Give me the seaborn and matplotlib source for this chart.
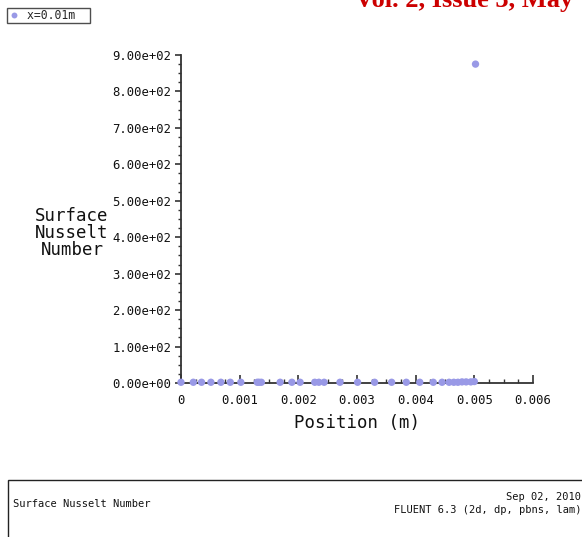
import matplotlib
matplotlib.use("Agg")
import matplotlib.pyplot as plt
import matplotlib.ticker as mticker
from matplotlib.patches import Rectangle
import seaborn as sns
import pandas as pd

# ---- data ----
position = [0.0, 0.00021, 0.00035, 0.00051, 0.00068, 0.00084, 0.00102, 0.00130,
            0.00133, 0.00137, 0.00169, 0.00189, 0.00203, 0.00228, 0.00235, 0.00244,
            0.00271, 0.00301, 0.00330, 0.00359, 0.00384, 0.00407, 0.00430, 0.00445,
            0.00457, 0.00465, 0.00472, 0.00479, 0.00486, 0.00494, 0.00500, 0.00502]
nusselt = [2, 2, 2, 2, 2, 2, 2, 2,
           2, 2, 2, 2, 2, 2, 2, 2,
           2, 2, 2, 2, 2, 2, 2, 2,
           2, 2, 2, 3, 3, 3, 4, 875]
series_label = "x=0.01m"
x_ticks = [0, 0.001, 0.002, 0.003, 0.004, 0.005, 0.006]
y_ticks = [0, 100, 200, 300, 400, 500, 600, 700, 800, 900]

df = pd.DataFrame({"Position (m)": position, "Surface Nusselt Number": nusselt,
                   "series": series_label})

sns.set_style("white")
plt.rcParams["font.family"] = ["DejaVu Sans Mono", "DejaVu Sans"]

W, H = 582, 537
X0, X1, YT, YB = 181, 533, 55, 383
fig = plt.figure(figsize=(W / 100, H / 100), dpi=100)
ax = fig.add_axes([X0 / W, 1 - YB / H, (X1 - X0) / W, (YB - YT) / H])

dot_color = "#9999e6"
sns.scatterplot(data=df, x="Position (m)", y="Surface Nusselt Number", hue="series",
                palette=[dot_color], s=28, edgecolor="none", ax=ax, clip_on=False,
                zorder=5, legend=True)

ax.set_xlim(0, 0.006)
ax.set_ylim(0, 900)
ax.set_xticks(x_ticks)
ax.set_yticks(y_ticks)
ax.xaxis.set_major_formatter(mticker.FuncFormatter(lambda v, p: "0" if abs(v) < 1e-12 else f"{v:.3f}"))
ax.yaxis.set_major_formatter(mticker.FuncFormatter(lambda v, p: f"{v:.2e}"))
ax.xaxis.set_minor_locator(mticker.MultipleLocator(0.00025))
ax.yaxis.set_minor_locator(mticker.MultipleLocator(25))

axis_col = "#333333"
for s in ["top", "right"]:
    ax.spines[s].set_visible(False)
for s in ["left", "bottom"]:
    ax.spines[s].set_color(axis_col)
    ax.spines[s].set_linewidth(1.3)

ax.tick_params(axis="x", which="major", direction="in", length=6, width=1.2,
               colors=axis_col, labelcolor="#111111", labelsize=8.8, pad=8, bottom=True)
ax.tick_params(axis="x", which="minor", direction="in", length=3, width=1.0,
               colors=axis_col, bottom=True)
ax.tick_params(axis="y", which="major", direction="out", length=4, width=1.2,
               colors=axis_col, labelcolor="#111111", labelsize=8.8, pad=3, left=True)
ax.tick_params(axis="y", which="minor", direction="out", length=2.5, width=1.0,
               colors=axis_col, left=True)

ax.set_xlabel("Position (m)", fontsize=12.5, color="#111111", labelpad=5)
ax.set_ylabel("Surface\nNusselt\nNumber", fontsize=12.5, color="#111111",
              rotation=0, ha="center", va="center", multialignment="center",
              linespacing=0.92)
ax.yaxis.set_label_coords((72 - X0) / (X1 - X0), (YB - 233) / (YB - YT))
ax.grid(False)

# legend box at top-left
leg = ax.legend(loc="upper left", bbox_to_anchor=(7 / W, 1 - 8 / H),
                bbox_transform=fig.transFigure, frameon=True, fancybox=False,
                borderpad=0.1, handletextpad=0.6, handlelength=1.0,
                borderaxespad=0, fontsize=8.3, markerscale=0.8)
leg.get_frame().set_edgecolor("#222222")
leg.get_frame().set_linewidth(1.0)
for t in leg.get_texts():
    t.set_text(series_label + "  ")

# bottom info box
fig.patches.append(Rectangle((8 / W, -0.05), 1.2, (537 - 480) / H + 0.05,
                             transform=fig.transFigure, fill=False,
                             edgecolor="#222222", linewidth=1.0))
fig.text(13 / W, 1 - 504 / H, "Surface Nusselt Number", fontsize=7.5,
         ha="left", va="center", color="#111111")
fig.text(581 / W, 1 - 497 / H, "Sep 02, 2010", fontsize=7.5,
         ha="right", va="center", color="#111111")
fig.text(581 / W, 1 - 510 / H, "FLUENT 6.3 (2d, dp, pbns, lam)", fontsize=7.5,
         ha="right", va="center", color="#111111")

# clipped journal header
fig.text(573 / W, 1 - 7 / H, "Vol. 2, Issue 3, May", fontsize=19,
         family="Liberation Serif", weight="bold", color="#cc0000",
         ha="right", va="baseline")

fig.savefig("out.png", dpi=100, facecolor="white")
